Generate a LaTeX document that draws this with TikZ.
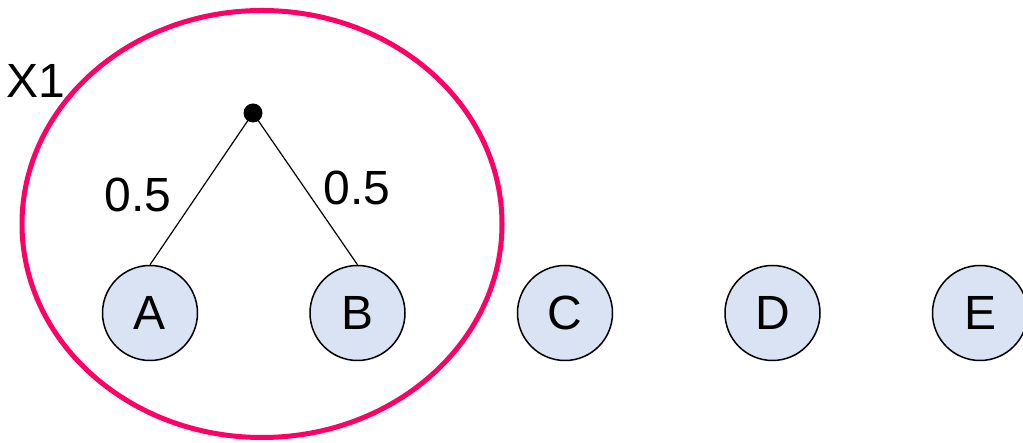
\documentclass[tikz,border=0pt]{standalone}
\usepackage{fontspec}
\setmainfont{Liberation Sans}
\usetikzlibrary{positioning}
\usetikzlibrary{shapes.geometric}

\definecolor{leafFill}{HTML}{DAE3F3}
\definecolor{clusterPink}{HTML}{FF0066}

\begin{document}
\begin{tikzpicture}[
  x=1pt, y=1pt,
  node distance=111pt,
  leafNode/.style={circle, draw=black, line width=1.5pt, fill=leafFill,
    minimum size=95pt, inner sep=0pt, font=\fontsize{48}{52}\selectfont},
  joinDot/.style={circle, fill=black, minimum size=19pt, inner sep=0pt},
  weightLabel/.style={font=\fontsize{48}{52}\selectfont, inner sep=0pt},
]

\useasboundingbox (0,0) rectangle (1023,443);

% --- leaves ---
\node [leafNode] (leafA) at (150,130) {A};
\node [leafNode, right=of leafA] (leafB) {B};
\node [leafNode, right=of leafB] (leafC) {C};
\node [leafNode, right=of leafC] (leafD) {D};
\node [leafNode, right=of leafD] (leafE) {E};

% --- merge point ---
\node [joinDot] (mergeAB) at (253,330) {};

\draw [line width=1.2pt] (mergeAB.center) -- (leafA.north);
\draw [line width=1.2pt] (mergeAB.center) -- (leafB.north);

\node [weightLabel] (weightA) at (138,248) {0.5};
\node [weightLabel] (weightB) at (357,255) {0.5};

% --- cluster ---
\node [draw=clusterPink, line width=5pt, ellipse, minimum width=480pt,
  minimum height=427pt, inner sep=0pt] (clusterX) at (262,219) {};
\node [weightLabel] (clusterLabel) at (36,362) {X1};

\end{tikzpicture}
\end{document}
